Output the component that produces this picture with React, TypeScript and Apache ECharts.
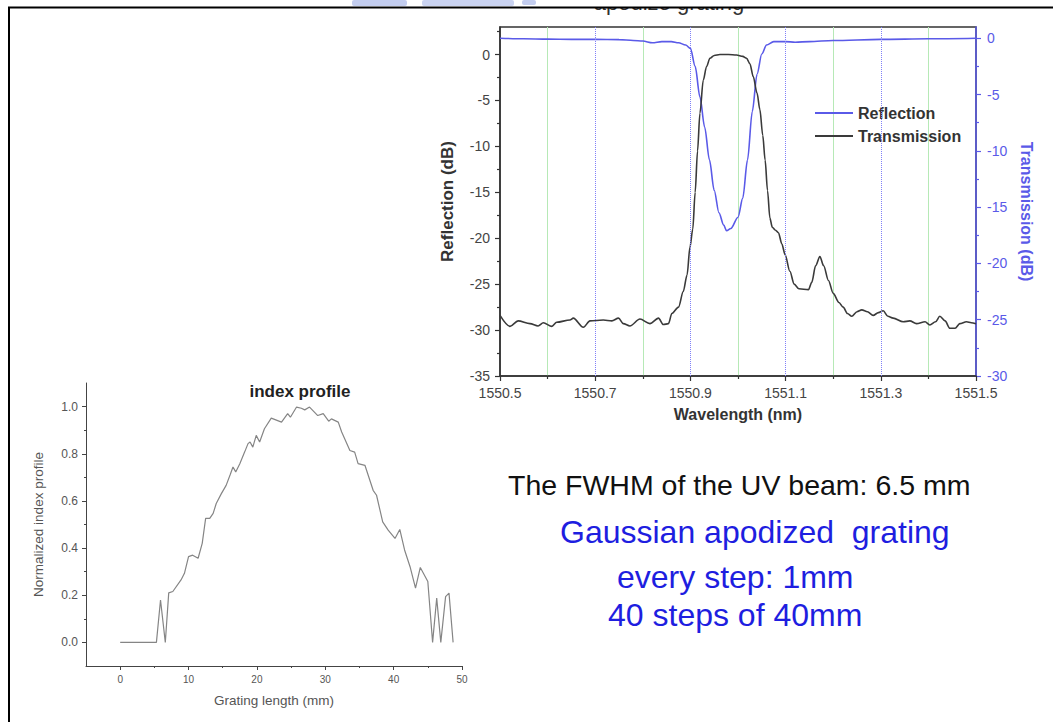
import React, { useEffect, useRef } from "react";
import * as echarts from "echarts";

const FONT = '"Liberation Sans", Arial, Helvetica, sans-serif';

// ---- Spectrum (top chart) ----
const reflWl = [1550.5, 1550.55, 1550.6, 1550.65, 1550.7, 1550.75, 1550.78, 1550.8, 1550.82, 1550.84, 1550.86, 1550.875, 1550.89, 1550.9, 1550.91, 1550.92, 1550.93, 1550.94, 1550.95, 1550.96, 1550.97, 1550.976, 1550.985, 1551.0, 1551.01, 1551.02, 1551.03, 1551.04, 1551.05, 1551.06, 1551.075, 1551.1, 1551.12, 1551.15, 1551.2, 1551.3, 1551.4, 1551.5];
const reflDb = [0.0, -0.05, -0.08, -0.1, -0.1, -0.12, -0.2, -0.25, -0.4, -0.3, -0.3, -0.4, -0.6, -0.9, -2.5, -5.2, -7.9, -10.8, -13.5, -15.5, -16.6, -17.1, -16.9, -15.9, -14.2, -10.8, -6.5, -3.2, -1.4, -0.6, -0.3, -0.3, -0.35, -0.3, -0.2, -0.1, -0.05, 0.0];

const transWl = [1550.5, 1550.521, 1550.538, 1550.563, 1550.58, 1550.591, 1550.609, 1550.619, 1550.647, 1550.654, 1550.675, 1550.689, 1550.717, 1550.735, 1550.749, 1550.759, 1550.773, 1550.794, 1550.815, 1550.833, 1550.843, 1550.854, 1550.861, 1550.875, 1550.885, 1550.893, 1550.899, 1550.905, 1550.91, 1550.915, 1550.92, 1550.927, 1550.934, 1550.941, 1550.95, 1550.962, 1550.98, 1550.997, 1551.01, 1551.018, 1551.025, 1551.032, 1551.04, 1551.046, 1551.052, 1551.057, 1551.062, 1551.067, 1551.072, 1551.078, 1551.085, 1551.092, 1551.099, 1551.109, 1551.118, 1551.128, 1551.148, 1551.155, 1551.163, 1551.172, 1551.18, 1551.19, 1551.2, 1551.212, 1551.221, 1551.23, 1551.239, 1551.25, 1551.26, 1551.272, 1551.284, 1551.295, 1551.305, 1551.315, 1551.326, 1551.347, 1551.361, 1551.375, 1551.393, 1551.403, 1551.415, 1551.424, 1551.435, 1551.445, 1551.456, 1551.466, 1551.48, 1551.49, 1551.5];
const transDb = [-28.4, -29.6, -29.0, -29.3, -29.55, -29.2, -29.6, -29.15, -28.9, -28.7, -29.7, -29.0, -28.9, -29.0, -28.7, -29.3, -29.55, -28.8, -29.3, -28.7, -29.4, -29.3, -28.2, -27.5, -25.8, -24.0, -21.0, -19.0, -15.0, -10.5, -6.4, -2.8, -1.3, -0.4, -0.1, 0.0, 0.0, -0.05, -0.2, -0.4, -1.0, -2.4, -4.2, -6.0, -8.8, -11.5, -14.8, -17.8, -18.8, -19.1, -19.4, -20.6, -21.8, -23.6, -25.0, -25.5, -25.6, -24.8, -23.0, -22.0, -23.0, -24.6, -26.0, -27.0, -27.5, -28.2, -28.5, -28.0, -27.8, -28.0, -28.4, -28.1, -27.9, -28.5, -28.7, -29.1, -29.0, -29.3, -29.1, -29.45, -29.1, -28.5, -29.0, -29.8, -29.8, -29.3, -29.1, -29.2, -29.3];

const blueGridWl = [1550.7, 1550.9, 1551.1, 1551.3];
const leftMajor = [-35, -30, -25, -20, -15, -10, -5, 0];
const leftMinor = [-32.5, -27.5, -22.5, -17.5, -12.5, -7.5, -2.5, 2.5];
const rightMajor = [-30, -25, -20, -15, -10, -5, 0];
const rightMinor = [-27.5, -22.5, -17.5, -12.5, -7.5, -2.5];

// ---- Index profile (bottom-left chart) ----
const gratingMm = [0, 5.3, 5.9, 6.6, 7.1, 7.7, 8.9, 9.4, 10.0, 10.6, 11.4, 12.0, 12.5, 13.1, 13.6, 14.05, 14.8, 15.5, 16.1, 16.5, 16.9, 17.5, 18.2, 18.7, 19.0, 19.4, 19.9, 20.4, 21.1, 22.1, 23.6, 24.5, 24.9, 25.8, 26.5, 27.0, 27.7, 28.9, 29.7, 30.5, 30.9, 31.9, 32.4, 33.6, 34.3, 34.8, 35.8, 37.0, 37.5, 38.4, 39.2, 40.2, 40.9, 41.6, 42.4, 43.2, 43.9, 45.0, 45.7, 46.3, 46.9, 47.6, 48.1, 48.7];
const indexProfile = [0, 0, 0.18, 0.0, 0.21, 0.216, 0.265, 0.293, 0.364, 0.37, 0.357, 0.42, 0.526, 0.526, 0.547, 0.589, 0.631, 0.666, 0.712, 0.744, 0.723, 0.758, 0.807, 0.843, 0.85, 0.828, 0.878, 0.85, 0.906, 0.951, 0.934, 0.97, 0.955, 0.998, 0.993, 0.986, 0.998, 0.962, 0.97, 0.938, 0.948, 0.934, 0.892, 0.814, 0.807, 0.758, 0.751, 0.645, 0.624, 0.511, 0.476, 0.441, 0.479, 0.392, 0.321, 0.23, 0.318, 0.258, 0.0, 0.188, 0.0, 0.194, 0.209, 0.0];
const lenMajor = [0, 10, 20, 30, 40, 50];
const lenMinor = [5, 15, 25, 35, 45];
const profMajor = [0, 0.2, 0.4, 0.6, 0.8, 1.0];
const profMinor = [0.1, 0.3, 0.5, 0.7, 0.9];

const noteLines = [
  "The FWHM of the UV beam: 6.5 mm",
  "Gaussian apodized  grating",
  "every step: 1mm",
  "40 steps of 40mm",
];

const BLUE = "#5a5ae8";
const DARK = "#333333";
const TEXT_BLUE = "#1e1ee0";

function buildOption() {
  const hiddenAxisBits = {
    axisLine: { show: false, onZero: false },
    axisLabel: { show: false },
    splitLine: { show: false },
  };
  return {
    animation: false,
    backgroundColor: "#ffffff",
    textStyle: { fontFamily: FONT },
    grid: [
      { left: 500, top: 27, width: 476, height: 349, show: true, borderColor: DARK, borderWidth: 1.5, backgroundColor: "transparent" },
      { left: 86, top: 383, width: 376, height: 283 },
    ],
    legend: {
      data: ["Reflection", "Transmission"],
      orient: "vertical",
      left: 810,
      top: 100,
      icon: "rect",
      itemWidth: 38,
      itemHeight: 2,
      itemGap: 7,
      textStyle: { fontFamily: FONT, fontSize: 16, fontWeight: "bold", color: DARK },
    },
    xAxis: [
      {
        gridIndex: 0,
        type: "value",
        position: "bottom",
        min: 1550.5,
        max: 1551.5,
        interval: 0.2,
        name: "Wavelength (nm)",
        nameLocation: "middle",
        nameGap: 30,
        nameTextStyle: { fontFamily: FONT, fontSize: 16, fontWeight: "bold", color: DARK },
        axisLine: { onZero: false, lineStyle: { color: DARK, width: 1.5 } },
        axisTick: { length: 5, lineStyle: { color: DARK, width: 1.2 } },
        minorTick: { show: true, splitNumber: 2, length: 3, lineStyle: { color: DARK, width: 1.2 } },
        axisLabel: { fontFamily: FONT, fontSize: 14, color: "#444", margin: 10, formatter: (v: number) => v.toFixed(1) },
        splitLine: { show: false },
        minorSplitLine: { show: true, lineStyle: { color: "#b6e9b6", width: 1 } },
      },
      {
        gridIndex: 1,
        type: "value",
        position: "bottom",
        min: -5,
        max: 50,
        name: "Grating length (mm)",
        nameLocation: "middle",
        nameGap: 27,
        nameTextStyle: { fontFamily: FONT, fontSize: 13.5, color: "#555" },
        axisLine: { onZero: false, lineStyle: { color: "#444", width: 1 } },
        axisTick: { length: 4, customValues: lenMajor, lineStyle: { color: "#444" } },
        axisLabel: { fontFamily: FONT, fontSize: 10, color: "#555", margin: 8, customValues: lenMajor },
        splitLine: { show: false },
      },
      {
        gridIndex: 1,
        type: "value",
        position: "bottom",
        min: -5,
        max: 50,
        ...hiddenAxisBits,
        axisTick: { length: 2, customValues: lenMinor, lineStyle: { color: "#444" } },
      },
    ],
    yAxis: [
      {
        gridIndex: 0,
        type: "value",
        position: "left",
        min: -35,
        max: 3,
        interval: 5,
        name: "Reflection (dB)",
        nameLocation: "middle",
        nameGap: 44,
        nameTextStyle: { fontFamily: FONT, fontSize: 17, fontWeight: "bold", color: DARK },
        axisLine: { show: true, onZero: false, lineStyle: { color: DARK, width: 1.5 } },
        axisTick: { length: 5, customValues: leftMajor, lineStyle: { color: DARK, width: 1.2 } },
        axisLabel: { fontFamily: FONT, fontSize: 14, color: "#444", margin: 10, customValues: leftMajor },
        splitLine: { show: false },
      },
      {
        gridIndex: 0,
        type: "value",
        position: "left",
        min: -35,
        max: 3,
        ...hiddenAxisBits,
        axisTick: { length: 3, customValues: leftMinor, lineStyle: { color: DARK, width: 1.2 } },
      },
      {
        gridIndex: 0,
        type: "value",
        position: "right",
        min: -30,
        max: 1,
        interval: 5,
        name: "Transmission (dB)",
        nameLocation: "middle",
        nameGap: 42,
        nameRotate: -90,
        nameTextStyle: { fontFamily: FONT, fontSize: 16, fontWeight: "bold", color: BLUE, padding: [0, 0, 0, 20] },
        axisLine: { show: true, onZero: false, lineStyle: { color: BLUE, width: 1.5 } },
        axisTick: { length: 5, customValues: rightMajor, lineStyle: { color: BLUE, width: 1.2 } },
        axisLabel: { fontFamily: FONT, fontSize: 14, color: BLUE, margin: 11, customValues: rightMajor },
        splitLine: { show: false },
      },
      {
        gridIndex: 0,
        type: "value",
        position: "right",
        min: -30,
        max: 1,
        ...hiddenAxisBits,
        axisTick: { length: 3, customValues: rightMinor, lineStyle: { color: BLUE, width: 1.2 } },
      },
      {
        gridIndex: 1,
        type: "value",
        position: "left",
        min: -0.1,
        max: 1.1,
        name: "Normalized index profile",
        nameLocation: "middle",
        nameGap: 41,
        nameTextStyle: { fontFamily: FONT, fontSize: 13.5, color: "#555" },
        axisLine: { show: true, onZero: false, lineStyle: { color: "#444", width: 1 } },
        axisTick: { length: 4, customValues: profMajor, lineStyle: { color: "#444" } },
        axisLabel: { fontFamily: FONT, fontSize: 12, color: "#555", margin: 8, customValues: profMajor, formatter: (v: number) => v.toFixed(1) },
        splitLine: { show: false },
      },
      {
        gridIndex: 1,
        type: "value",
        position: "left",
        min: -0.1,
        max: 1.1,
        ...hiddenAxisBits,
        axisTick: { length: 2, customValues: profMinor, lineStyle: { color: "#444" } },
      },
    ],
    series: [
      {
        name: "grid-lines",
        type: "line",
        xAxisIndex: 0,
        yAxisIndex: 0,
        data: [],
        silent: true,
        z: 1,
        markLine: {
          silent: true,
          symbol: ["none", "none"],
          label: { show: false },
          lineStyle: { color: "#8080f8", type: [1, 1], width: 1 },
          emphasis: { disabled: true },
          data: blueGridWl.map((w) => ({ xAxis: w })),
        },
      },
      {
        name: "Reflection",
        type: "line",
        xAxisIndex: 0,
        yAxisIndex: 2,
        data: reflWl.map((w, i) => [w, reflDb[i]]),
        symbol: "none",
        smooth: 0.3,
        smoothMonotone: "x",
        lineStyle: { color: BLUE, width: 1.6 },
        itemStyle: { color: BLUE },
        z: 3,
      },
      {
        name: "Transmission",
        type: "line",
        xAxisIndex: 0,
        yAxisIndex: 0,
        data: transWl.map((w, i) => [w, transDb[i]]),
        symbol: "none",
        smooth: 0.3,
        smoothMonotone: "x",
        lineStyle: { color: "#3a3a3a", width: 1.6 },
        itemStyle: { color: "#3a3a3a" },
        z: 3,
      },
      {
        name: "index profile",
        type: "line",
        xAxisIndex: 1,
        yAxisIndex: 4,
        data: gratingMm.map((g, i) => [g, indexProfile[i]]),
        symbol: "none",
        lineStyle: { color: "#858585", width: 1.2 },
        itemStyle: { color: "#858585" },
      },
    ],
    graphic: [
      {
        type: "text",
        z: 1,
        style: { text: "apodize grating", x: 669, y: 2, align: "center", verticalAlign: "middle", font: `22px ${FONT}`, fill: "#333" },
      },
      { type: "rect", z: 2, shape: { x: 0, y: 0, width: 1053, height: 7 }, style: { fill: "#ffffff" } },
      { type: "rect", z: 3, shape: { x: 352, y: 0, width: 55, height: 6, r: 2 }, style: { fill: "#c3cdef" } },
      { type: "rect", z: 3, shape: { x: 422, y: 0, width: 92, height: 6, r: 2 }, style: { fill: "#cad3f1" } },
      { type: "rect", z: 3, shape: { x: 522, y: 0, width: 14, height: 5, r: 2 }, style: { fill: "#c3cdef" } },
      { type: "line", z: 4, shape: { x1: 8, y1: 7.5, x2: 1053, y2: 7.5 }, style: { stroke: "#000", lineWidth: 2 } },
      { type: "line", z: 4, shape: { x1: 9, y1: 7, x2: 9, y2: 722 }, style: { stroke: "#000", lineWidth: 2 } },
      {
        type: "text",
        style: { text: "index profile", x: 300, y: 391, align: "center", verticalAlign: "middle", font: `bold 17px ${FONT}`, fill: "#222" },
      },
      {
        type: "text",
        style: { text: noteLines[0], x: 508, y: 485, align: "left", verticalAlign: "middle", font: `28.5px ${FONT}`, fill: "#111" },
      },
      {
        type: "text",
        style: { text: noteLines[1], x: 560, y: 532, align: "left", verticalAlign: "middle", font: `32px ${FONT}`, fill: TEXT_BLUE },
      },
      {
        type: "text",
        style: { text: noteLines[2], x: 617, y: 577, align: "left", verticalAlign: "middle", font: `32px ${FONT}`, fill: TEXT_BLUE },
      },
      {
        type: "text",
        style: { text: noteLines[3], x: 608, y: 615, align: "left", verticalAlign: "middle", font: `32px ${FONT}`, fill: TEXT_BLUE },
      },
    ],
  };
}

export default function App() {
  const ref = useRef<HTMLDivElement>(null);
  useEffect(() => {
    document.body.style.margin = "0";
    const chart = echarts.init(ref.current as HTMLDivElement, null, { renderer: "svg" });
    chart.setOption(buildOption() as any);
    return () => {
      chart.dispose();
    };
  }, []);
  return <div ref={ref} style={{ width: 1053, height: 722, background: "#fff" }} />;
}
